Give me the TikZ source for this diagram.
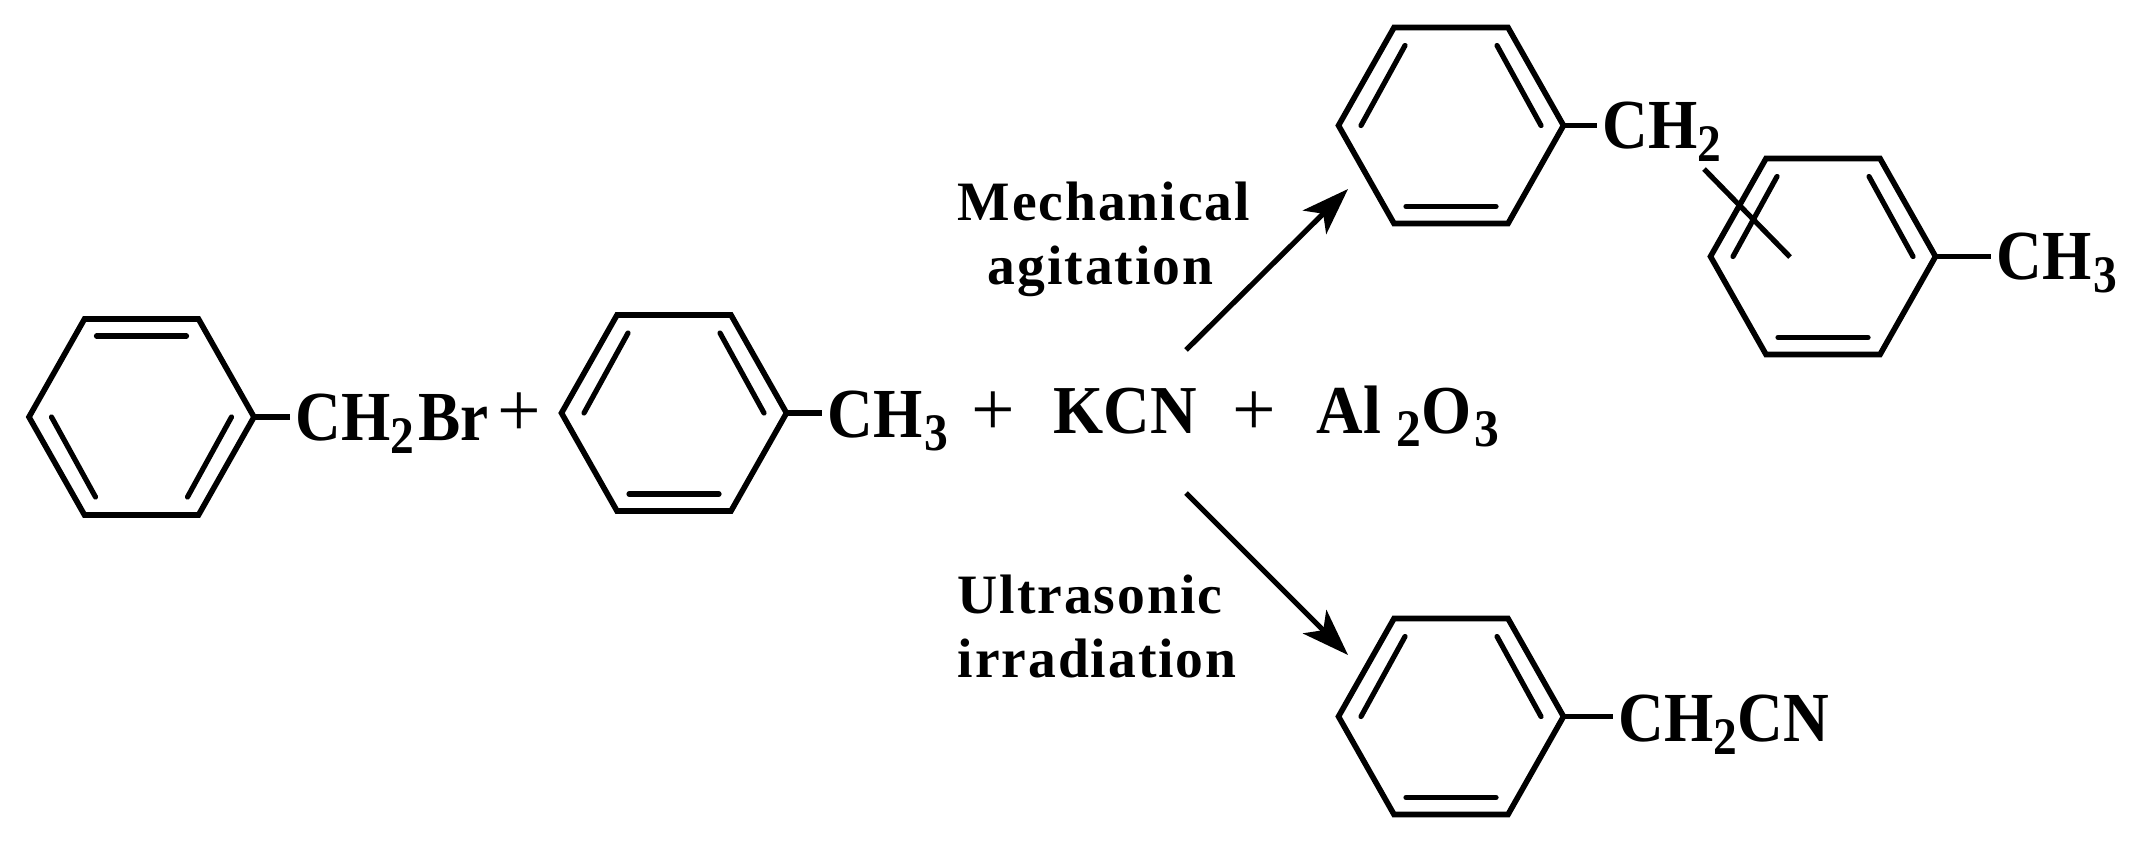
\documentclass[tikz,border=0pt]{standalone}
\usepackage{fontspec}
\usepackage{tikz}
\usetikzlibrary{arrows.meta}
\setmainfont{Liberation Serif}
\newfontfamily\chemfont[FakeStretch=0.9]{Liberation Serif}
\newfontfamily\saltfont[FakeStretch=0.94]{Liberation Serif}
\newfontfamily\condfont[LetterSpace=3.5]{Liberation Serif}
\newcommand{\dropnum}[1]{\raisebox{-0.13cm}{\fontsize{15}{15}\selectfont #1}}
% one ring: name, centre x, centre y, 1 or -1 for the side of the inner bonds
\newcommand{\benzene}[4]{
    \begin{scope}[shift={(#2,#3)},yscale=#4]
        \coordinate (#1-e) at (112.5,0);
        \draw[ringline] (-112.5,0) -- (-57,-98) -- (57,-98) -- (#1-e) -- (57,98) -- (-57,98) -- cycle;
        \draw[innerline] (-46,-80) -- (-90,0);
        \draw[innerline] (46,-80) -- (90,0);
        \draw[innerline] (-45,81) -- (45,81);
    \end{scope}
}
\tikzset{
    ringline/.style={line width=0.056cm,line join=miter},
    innerline/.style={line width=0.052cm,line cap=round},
    bond/.style={line width=0.056cm,shorten >=0.05cm},
    rxnarrow/.style={line width=0.052cm,-{Stealth[length=0.47cm,width=0.33cm,inset=0.12cm]}},
    formula/.style={anchor=base west,inner sep=0pt,font=\chemfont\bfseries\fontsize{20}{20}\selectfont},
    reagent/.style={anchor=base west,inner sep=0pt,font=\saltfont\bfseries\fontsize{19.5}{20}\selectfont},
    condition/.style={anchor=base west,inner sep=0pt,font=\condfont\bfseries\fontsize{15.8}{16}\selectfont},
    plussign/.style={inner sep=0pt,font=\fontsize{22}{22}\selectfont},
}

\begin{document}
\begin{tikzpicture}[x=0.01cm,y=-0.01cm]
    \useasboundingbox (0,0) rectangle (2134,848);

    \benzene{ringa}{141.5}{417}{-1}
    \benzene{ringb}{674}{413}{1}
    \benzene{ringc}{1451}{125.5}{1}
    \benzene{ringd}{1823}{256.5}{1}
    \benzene{ringe}{1451}{716.5}{1}

    \node[formula] (bromide) at (295,440) {CH\dropnum{2}\kern0.04cm Br};
    \node[formula] (methyla) at (827,437) {CH\kern0.02cm\dropnum{3}};
    \node[formula] (bridge) at (1602,148) {CH\dropnum{2}};
    \node[formula] (methylb) at (1996,279) {CH\kern0.02cm\dropnum{3}};
    \node[formula] (nitrile) at (1618,741) {CH\dropnum{2}CN};

    \draw[bond] (ringa-e) -- (ringa-e -| bromide.west);
    \draw[bond] (ringb-e) -- (ringb-e -| methyla.west);
    \draw[bond] (ringc-e) -- (ringc-e -| bridge.west);
    \draw[bond] (ringd-e) -- (ringd-e -| methylb.west);
    \draw[bond] (ringe-e) -- (ringe-e -| nitrile.west);

    \coordinate (linktop) at (1704,169);
    \coordinate (linkend) at (1790,257);
    \draw[innerline,line cap=butt] (linktop) -- (linkend);

    \node[plussign] (plusa) at (519,415) {+};
    \node[plussign] (plusb) at (993,414) {+};
    \node[plussign] (plusc) at (1254,414) {+};
    \node[reagent] (kcn) at (1053,433) {KCN};
    \node[reagent] (alumina) at (1316,433) {Al\kern0.15cm\dropnum{2}\kern0.01cm O\kern0.02cm\dropnum{3}};

    \coordinate (arrowup) at (1186,350);
    \coordinate (tipup) at (1348,189);
    \coordinate (arrowdown) at (1186,493);
    \coordinate (tipdown) at (1348,655);
    \draw[rxnarrow] (arrowup) -- (tipup);
    \draw[rxnarrow] (arrowdown) -- (tipdown);

    \node[condition] (mech) at (957,220) {Mechanical};
    \node[condition] (agit) at (987,284) {agitation};
    \node[condition] (ultra) at (957,613) {Ultrasonic};
    \node[condition] (irrad) at (957,677) {irradiation};
\end{tikzpicture}
\end{document}
